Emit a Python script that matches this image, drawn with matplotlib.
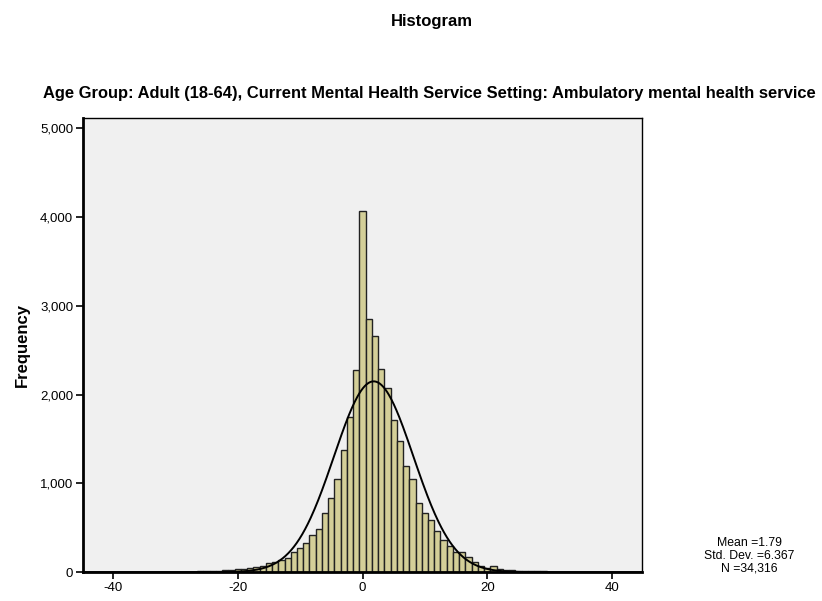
import numpy as np
import matplotlib
matplotlib.use('Agg')
import matplotlib.pyplot as plt
from matplotlib.ticker import FuncFormatter

plt.rcParams['font.family'] = ['Liberation Sans', 'DejaVu Sans']
plt.rcParams['axes.unicode_minus'] = False

# bin centres (width 1) and counts
bins = list(range(-30, 31))
counts = [3, 4, 5, 6, 8, 10, 12, 15, 22, 20,
          30, 38, 42, 53, 70, 98, 118, 138, 164, 226,
          273, 330, 422, 488, 670, 836, 1050, 1373, 1746, 2279,
          4065,
          2850, 2660, 2288, 2077, 1720, 1481, 1197, 1046, 775, 670,
          591, 463, 366, 296, 230, 230, 170, 115, 68, 45,
          64, 35, 28, 24, 18, 15, 12, 10, 8, 6]

mean = 1.79
sd = 6.367
n = 34316

xticks = [-40, -20, 0, 20, 40]
yticks = [0, 1000, 2000, 3000, 4000, 5000]

fig = plt.figure(figsize=(8.22, 6.01), dpi=100)
ax = fig.add_axes([0.101, 0.048, 0.680, 0.756])
ax.set_facecolor('#f0f0f0')

ax.bar(bins, counts, width=1.0, color='#d4cf98', edgecolor='#222222', linewidth=1.0, zorder=2)

# fitted normal curve
xs = np.linspace(-44.8, 44.8, 600)
ys = n / (sd * np.sqrt(2 * np.pi)) * np.exp(-0.5 * ((xs - mean) / sd) ** 2)
ax.plot(xs, ys, color='black', linewidth=1.4, zorder=3)

ax.set_xlim(-44.8, 44.8)
ax.set_ylim(0, 5120)
ax.set_xticks(xticks)
ax.set_yticks(yticks)
ax.yaxis.set_major_formatter(FuncFormatter(lambda v, p: '{:,}'.format(int(v))))
ax.tick_params(direction='out', length=5, width=1.2, labelsize=9.5, pad=2)
for s in ax.spines.values():
    s.set_color('black')
    s.set_linewidth(1.0)
ax.spines['bottom'].set_linewidth(2.0)
ax.spines['left'].set_linewidth(2.0)

ax.set_ylabel('Frequency', fontsize=12, fontweight='bold', labelpad=7)

fig.text(0.525, 0.965, 'Histogram', ha='center', va='center', fontsize=12, fontweight='bold')
fig.text(0.522, 0.845,
         'Age Group: Adult (18-64), Current Mental Health Service Setting: Ambulatory mental health service',
         ha='center', va='center', fontsize=11.9, fontweight='bold')

fig.text(0.912, 0.075, 'Mean =1.79\nStd. Dev. =6.367\nN =34,316',
         ha='center', va='center', fontsize=8.8, linespacing=1.1)

fig.savefig('out.png', dpi=100)
